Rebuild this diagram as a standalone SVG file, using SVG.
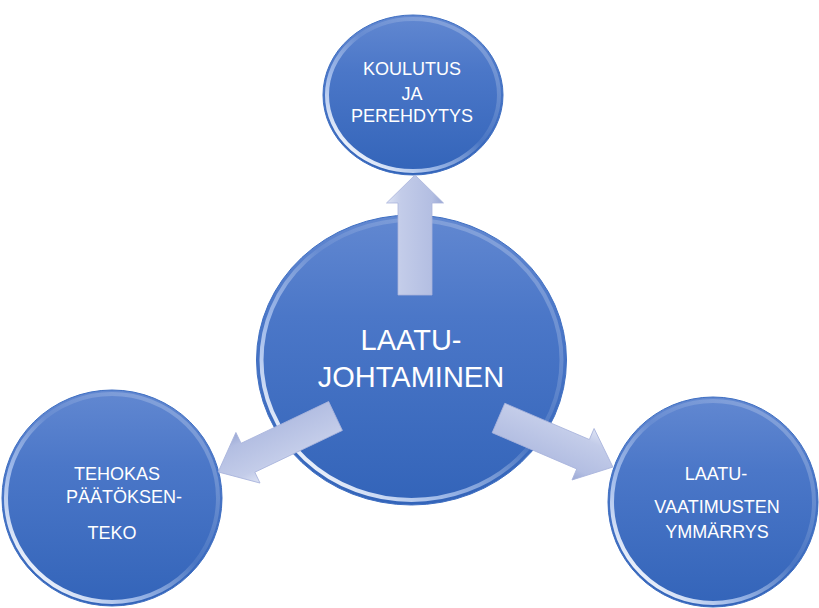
<svg xmlns="http://www.w3.org/2000/svg" width="819" height="608" viewBox="0 0 819 608">
  <defs>
    <linearGradient id="ballFill" x1="0" y1="0" x2="0" y2="1">
      <stop offset="0" stop-color="#6288d1"/>
      <stop offset="0.35" stop-color="#4b77c8"/>
      <stop offset="1" stop-color="#3364b9"/>
    </linearGradient>
    <linearGradient id="rim" x1="0.9" y1="0.1" x2="0.1" y2="0.9">
      <stop offset="0" stop-color="#ffffff" stop-opacity="0.25"/>
      <stop offset="0.45" stop-color="#ffffff" stop-opacity="0.08"/>
      <stop offset="0.7" stop-color="#cfe0ff" stop-opacity="0.6"/>
      <stop offset="1" stop-color="#ffffff" stop-opacity="1"/>
    </linearGradient>
    <linearGradient id="arrowFill" x1="0" y1="0" x2="0" y2="1">
      <stop offset="0" stop-color="#dde3f4"/>
      <stop offset="0.25" stop-color="#c3cce9"/>
      <stop offset="0.8" stop-color="#b3bee2"/>
      <stop offset="1" stop-color="#9aa8d4"/>
    </linearGradient>
    <style>
      .ball { fill: url(#ballFill); stroke: #3f6fc2; stroke-width: 1; }
      .rim { fill: none; stroke: url(#rim); stroke-width: 4; }
      .arrow { fill: url(#arrowFill); stroke: #a9b4dc; stroke-width: 0.8; }
      .lbl { font-family: "Liberation Sans", Arial, sans-serif; fill: #ffffff; text-anchor: middle; }
      .sm { font-size: 18px; }
      .big { font-size: 29px; }
    </style>
  </defs>

  <g id="node-top">
    <ellipse class="ball" cx="413" cy="95" rx="90" ry="80"/>
    <ellipse class="rim" cx="413" cy="95" rx="86" ry="76"/>
    <text class="lbl sm" x="412" y="75">KOULUTUS</text>
    <text class="lbl sm" x="412" y="100">JA</text>
    <text class="lbl sm" x="412" y="122">PEREHDYTYS</text>
  </g>

  <g id="node-center">
    <ellipse class="ball" cx="411.5" cy="360" rx="155" ry="145"/>
    <ellipse class="rim" cx="411.5" cy="360" rx="150" ry="140"/>
    <text class="lbl big" x="411" y="350">LAATU-</text>
    <text class="lbl big" x="411" y="387">JOHTAMINEN</text>
  </g>

  <g id="node-left">
    <ellipse class="ball" cx="112" cy="498" rx="110" ry="108"/>
    <ellipse class="rim" cx="112" cy="498" rx="106" ry="104"/>
    <text class="lbl sm" x="117" y="480">TEHOKAS</text>
    <text class="lbl sm" x="124" y="503">PÄÄTÖKSEN-</text>
    <text class="lbl sm" x="112" y="539">TEKO</text>
  </g>

  <g id="node-right">
    <ellipse class="ball" cx="713" cy="502" rx="105" ry="105"/>
    <ellipse class="rim" cx="713" cy="502" rx="101" ry="101"/>
    <text class="lbl sm" x="716" y="480">LAATU-</text>
    <text class="lbl sm" x="717" y="513">VAATIMUSTEN</text>
    <text class="lbl sm" x="717" y="538">YMMÄRRYS</text>
  </g>

  <g id="connectors">
    <path class="arrow" transform="translate(415,295) rotate(-90)" d="M0,-17 L92,-17 L92,-28.5 L120,0 L92,28.5 L92,17 L0,17 Z"/>
    <path class="arrow" transform="translate(335.5,416) rotate(154.5)" d="M0,-16 L97,-16 L97,-28 L130,0 L97,28 L97,16 L0,16 Z"/>
    <path class="arrow" transform="translate(498.5,418) rotate(23.2)" d="M0,-16 L92,-16 L92,-28 L124.5,0 L92,28 L92,16 L0,16 Z"/>
  </g>
</svg>
